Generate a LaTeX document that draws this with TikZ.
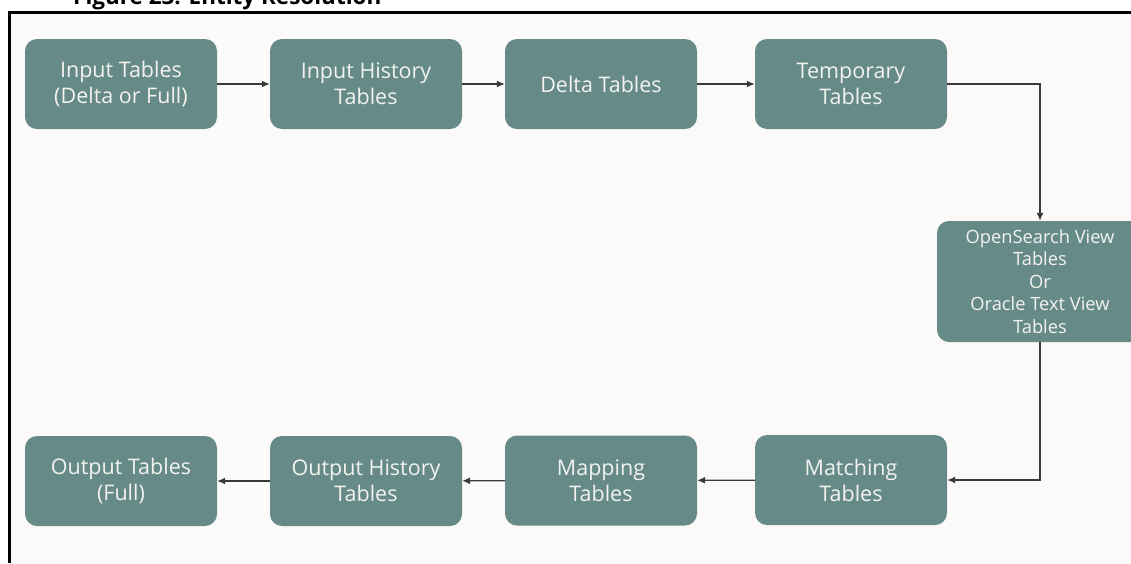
\documentclass[tikz,border=0pt]{standalone}
\usepackage{fontspec}
\setmainfont{Open Sans}
\usetikzlibrary{arrows.meta}
\definecolor{boxfill}{HTML}{668A88}
\definecolor{boxtext}{HTML}{F2F3EF}
\definecolor{bgcol}{HTML}{FBFAF8}
\definecolor{arrcol}{HTML}{3A3A3A}
\begin{document}
\begin{tikzpicture}[x=1pt,y=-1pt,
  box/.style={rounded corners=12pt, fill=boxfill, text=boxtext, minimum width=192pt,
    minimum height=90pt, align=center, inner sep=0pt, font=\fontsize{21.5}{26}\selectfont},
  smallbox/.style={box, minimum width=206pt, minimum height=121pt, font=\fontsize{18.3}{22.5}\selectfont},
  arr/.style={draw=arrcol, line width=1.2pt, -{Latex[length=8pt,width=7pt]}},
  titletext/.style={anchor=base west, inner sep=0pt, font=\bfseries\fontsize{22.5}{24}\selectfont}]
\useasboundingbox (0,0) rectangle (1131,563);
\clip (0,0) rectangle (1131,563);
\fill[white] (0,0) rectangle (1131,563);
\fill[bgcol] (9,12) rectangle (1131,563);
\node[titletext] (title) at (73,4.5) {Figure 23: Entity Resolution};
\draw[line width=3pt] (9,563) -- (9,12) -- (1131,12);

\node[box] (b1) at (121,84) {Input Tables\\(Delta or Full)};
\node[box] (b2) at (366,84) {Input History\\Tables};
\node[box] (b3) at (601,84) {Delta Tables};
\node[box] (b4) at (851,84) {Temporary\\Tables};
\node[smallbox] (b5) at (1040,281.5) {OpenSearch View\\Tables\\Or\\Oracle Text View\\Tables};
\node[box] (b6) at (851,480) {Matching\\Tables};
\node[box] (b7) at (601,480.5) {Mapping\\Tables};
\node[box] (b8) at (366,481) {Output History\\Tables};
\node[box] (b9) at (121,481) {Output Tables\\(Full)};

\draw[arr] (b1) -- (b2);
\draw[arr] (b2) -- (b3);
\draw[arr] (b3) -- (b4);
\draw[arr] (b4.east) -| (b5.north);
\draw[arr] (b5.south) |- (b6.east);
\draw[arr] (b6) -- (b7);
\draw[arr] (b7) -- (b8);
\draw[arr] (b8) -- (b9);
\end{tikzpicture}
\end{document}
